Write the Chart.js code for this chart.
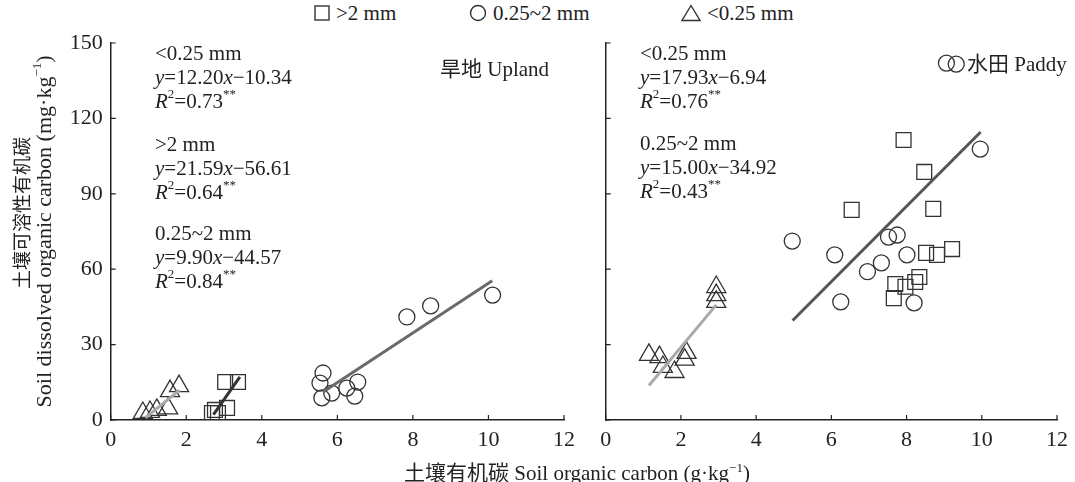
<!DOCTYPE html>
<html>
<head>
<meta charset="utf-8">
<script src="https://cdn.jsdelivr.net/npm/chart.js@4"></script>
<style>
  body { margin: 0; background: #fff; width: 1075px; height: 482px; position: relative; overflow: hidden;
         font-family: 'Liberation Serif', 'Noto Sans CJK SC', serif; color: #222; }
  #left { position: absolute; left: 0; top: 0; }
  #right { position: absolute; left: 590px; top: 0; }
  .leg { position: absolute; top: 2px; height: 22px; font-size: 21px; display: flex; align-items: center; white-space: nowrap; }
  .leg svg { margin-right: 6px; }
  #xtitle { position: absolute; left: 327px; width: 500px; top: 456px; text-align: center; font-size: 21px; white-space: nowrap; }
  sup { font-size: 13px; }
</style>
</head>
<body>
<div class="leg" style="left:314px">
  <svg width="16" height="16"><rect x="1" y="1" width="14" height="14" fill="none" stroke="#333" stroke-width="1.4"/></svg>&gt;2 mm
</div>
<div class="leg" style="left:469px">
  <svg width="18" height="18"><circle cx="9" cy="9" r="7.5" fill="none" stroke="#333" stroke-width="1.4"/></svg>0.25~2 mm
</div>
<div class="leg" style="left:681px">
  <svg width="20" height="18"><polygon points="10,1.5 19,16.5 1,16.5" fill="none" stroke="#333" stroke-width="1.4"/></svg>&lt;0.25 mm
</div>
<canvas id="left" width="590" height="482"></canvas>
<canvas id="right" width="485" height="482"></canvas>
<div id="xtitle">土壤有机碳 Soil organic carbon (g·kg<sup>−1</sup>)</div>
<script>
// 旱地 Upland, points [x, y]
const uplandLt025 = [[0.85, 2.8], [1.04, 3.2], [1.22, 4.0], [1.52, 4.6], [1.57, 11.5], [1.81, 13.5]];
const uplandGt2 = [[2.68, 2.8], [2.84, 2.8], [2.76, 4.0], [3.08, 4.8], [3.03, 15.1], [3.37, 15.1]];
const uplandMid = [[5.54, 14.7], [5.62, 18.7], [5.59, 8.8], [5.85, 10.7], [6.25, 12.7], [6.46, 9.5],
                   [6.54, 15.1], [7.84, 41.0], [8.47, 45.4], [10.11, 49.7]];
// fitted lines (end points)
const uplandFitLt025 = [[0.92, 0.9], [1.82, 11.9]];
const uplandFitGt2 = [[2.72, 2.1], [3.42, 17.2]];
const uplandFitMid = [[5.62, 11.1], [10.1, 55.4]];

// 水田 Paddy
const paddyLt025 = [[1.15, 25.9], [1.43, 25.0], [1.52, 21.1], [1.83, 19.1], [2.10, 24.0], [2.15, 26.7],
                    [2.94, 47.0], [2.94, 49.7], [2.94, 52.9]];
const paddyGt2 = [[7.92, 111.4], [8.47, 98.7], [6.54, 83.6], [8.71, 84.0], [8.52, 66.5], [8.81, 65.7],
                  [9.21, 68.0], [8.34, 56.9], [8.23, 54.9], [7.70, 54.1], [7.97, 53.0], [7.66, 48.5]];
const paddyMid = [[9.06, 142.0], [9.32, 141.6], [9.96, 107.8], [4.96, 71.2], [6.09, 65.7], [7.52, 72.8],
                  [7.75, 73.6], [8.01, 65.7], [7.33, 62.5], [6.96, 59.0], [6.25, 47.0], [8.20, 46.6]];
const paddyFitLt025 = [[1.15, 13.7], [2.94, 45.8]];
const paddyFitMid = [[4.97, 39.6], [9.97, 114.6]];

const xTicks = [0, 2, 4, 6, 8, 10, 12];
const yTicks = [0, 30, 60, 90, 120, 150];

// equation text: [text, kind]  kind: i = italic, s = superscript
const uplandNotes = [
  [['<0.25 mm']],
  [['y', 'i'], ['=12.20'], ['x', 'i'], ['−10.34']],
  [['R', 'i'], ['2', 's'], ['=0.73'], ['**', 's']],
  [['>2 mm']],
  [['y', 'i'], ['=21.59'], ['x', 'i'], ['−56.61']],
  [['R', 'i'], ['2', 's'], ['=0.64'], ['**', 's']],
  [['0.25~2 mm']],
  [['y', 'i'], ['=9.90'], ['x', 'i'], ['−44.57']],
  [['R', 'i'], ['2', 's'], ['=0.84'], ['**', 's']]
];
const uplandNoteY = [54, 78, 102, 145, 169, 193, 234, 258, 282];
const paddyNotes = [
  [['<0.25 mm']],
  [['y', 'i'], ['=17.93'], ['x', 'i'], ['−6.94']],
  [['R', 'i'], ['2', 's'], ['=0.76'], ['**', 's']],
  [['0.25~2 mm']],
  [['y', 'i'], ['=15.00'], ['x', 'i'], ['−34.92']],
  [['R', 'i'], ['2', 's'], ['=0.43'], ['**', 's']]
];
const paddyNoteY = [54, 78, 102, 144, 168, 192];

const SERIF = "'Liberation Serif', 'Noto Sans CJK SC', serif";
const toXY = arr => arr.map(p => ({ x: p[0], y: p[1] }));

function drawRich(ctx, x, y, segs) {
  segs.forEach(([t, k]) => {
    ctx.font = k === 's' ? '13px ' + SERIF : (k === 'i' ? 'italic ' : '') + '21px ' + SERIF;
    ctx.fillText(t, x, y + (k === 's' ? -7 : 0));
    x += ctx.measureText(t).width;
  });
}

const inwardTicks = {
  id: 'inwardTicks',
  afterDraw(chart) {
    const { ctx, chartArea: a, scales: { x, y } } = chart;
    ctx.save();
    ctx.strokeStyle = '#222';
    ctx.lineWidth = 1.2;
    ctx.beginPath();
    x.ticks.forEach(t => {
      const px = x.getPixelForValue(t.value);
      ctx.moveTo(px, a.bottom);
      ctx.lineTo(px, a.bottom - 5);
    });
    y.ticks.forEach(t => {
      const py = y.getPixelForValue(t.value);
      ctx.moveTo(a.left, py);
      ctx.lineTo(a.left + 5, py);
    });
    ctx.stroke();
    ctx.restore();
  }
};

// y axis title, two lines of different size
const yTitle = {
  id: 'yTitle',
  afterDraw(chart) {
    if (chart.canvas.id !== 'left') return;
    const ctx = chart.ctx;
    ctx.save();
    ctx.fillStyle = '#222';
    ctx.textAlign = 'center';
    ctx.textBaseline = 'middle';
    ctx.translate(22, 213);
    ctx.rotate(-Math.PI / 2);
    ctx.font = "19px 'Noto Sans CJK SC', sans-serif";
    ctx.fillText('土壤可溶性有机碳', 0, 0);
    ctx.restore();
    ctx.save();
    ctx.fillStyle = '#222';
    ctx.textAlign = 'center';
    ctx.textBaseline = 'middle';
    ctx.translate(45, 234);
    ctx.rotate(-Math.PI / 2);
    ctx.font = '22px ' + SERIF;
    ctx.fillText('Soil dissolved organic carbon (mg·kg', -8, 0);
    const w = ctx.measureText('Soil dissolved organic carbon (mg·kg').width;
    ctx.font = '13px ' + SERIF;
    ctx.textAlign = 'left';
    ctx.fillText('−1', w / 2 - 8, -7);
    const w2 = ctx.measureText('−1').width;
    ctx.font = '22px ' + SERIF;
    ctx.fillText(')', w / 2 - 8 + w2, 0);
    ctx.restore();
  }
};

function notesPlugin(lines, ys, textX, label, labelX, labelY) {
  return {
    id: 'notes',
    afterDraw(chart) {
      const ctx = chart.ctx;
      ctx.save();
      ctx.fillStyle = '#222';
      ctx.textBaseline = 'middle';
      ctx.textAlign = 'left';
      lines.forEach((segs, i) => drawRich(ctx, textX, ys[i], segs));
      ctx.font = '21px ' + SERIF;
      ctx.fillText(label, labelX, labelY);
      ctx.restore();
    }
  };
}

function pointSet(data, style, radius) {
  return {
    data: toXY(data),
    pointStyle: style,
    pointRadius: radius,
    pointBorderColor: '#333',
    pointBorderWidth: 1.3,
    pointBackgroundColor: 'rgba(0,0,0,0)',
    showLine: false
  };
}

function fitLine(data, color) {
  return {
    data: toXY(data),
    showLine: true,
    borderColor: color,
    borderWidth: 3,
    pointRadius: 0,
    fill: false
  };
}

function makeChart(id, datasets, yWidth, padRight, showY, plugin) {
  return new Chart(document.getElementById(id), {
    type: 'scatter',
    data: { datasets: datasets },
    options: {
      responsive: false,
      animation: false,
      layout: { padding: { top: 43, right: padRight, left: 0, bottom: 0 } },
      plugins: { legend: { display: false }, tooltip: { enabled: false } },
      scales: {
        x: {
          min: 0, max: 12,
          afterBuildTicks: s => { s.ticks = xTicks.map(v => ({ value: v })); },
          afterFit: s => { s.height = 62; },
          grid: { display: false, drawTicks: false },
          border: { display: true, color: '#222', width: 1.5 },
          ticks: { color: '#222', padding: 7, font: { family: SERIF, size: 22 }, maxRotation: 0 }
        },
        y: {
          min: 0, max: 150,
          afterBuildTicks: s => { s.ticks = yTicks.map(v => ({ value: v })); },
          afterFit: s => { s.width = yWidth; },
          grid: { display: false, drawTicks: false },
          border: { display: true, color: '#222', width: 1.5 },
          ticks: { display: showY, color: '#222', padding: 8, font: { family: SERIF, size: 22 } }
        }
      }
    },
    plugins: [inwardTicks, yTitle, plugin]
  });
}

makeChart('left', [
  fitLine(uplandFitGt2, '#333'),
  fitLine(uplandFitMid, '#6a6a6a'),
  fitLine(uplandFitLt025, '#aaaaaa'),
  pointSet(uplandGt2, 'rect', 10.5),
  pointSet(uplandMid, 'circle', 8),
  pointSet(uplandLt025, 'triangle', 11)
], 110.7, 26, true, notesPlugin(uplandNotes, uplandNoteY, 155, '旱地 Upland', 440, 70));

makeChart('right', [
  fitLine(paddyFitMid, '#555'),
  fitLine(paddyFitLt025, '#aaaaaa'),
  pointSet(paddyGt2, 'rect', 10.5),
  pointSet(paddyMid, 'circle', 8),
  pointSet(paddyLt025, 'triangle', 11)
], 15.7, 16, false, notesPlugin(paddyNotes, paddyNoteY, 50, '水田 Paddy', 377, 65));
</script>
</body>
</html>
